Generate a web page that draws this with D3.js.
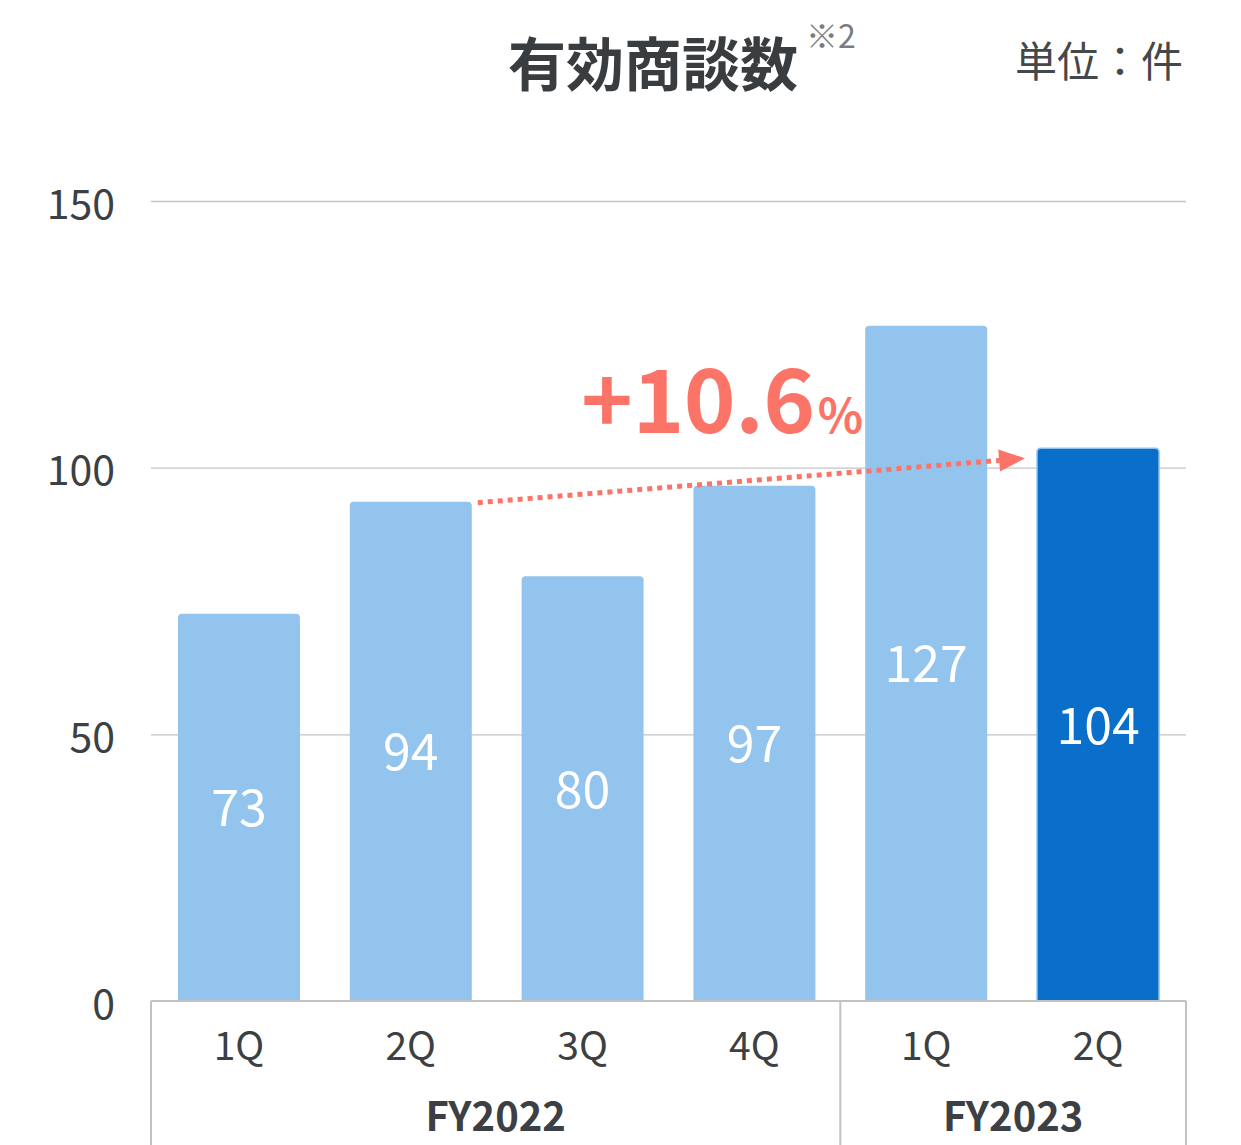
<!DOCTYPE html>
<html>
<head>
<meta charset="utf-8">
<script src="https://cdn.jsdelivr.net/npm/d3@7"></script>
<style>
  html, body { margin: 0; padding: 0; background: #fff; }
  svg { display: block; font-family: "Noto Sans CJK JP", "Noto Sans", sans-serif; }
</style>
</head>
<body>
<svg id="chart" width="1241" height="1145"></svg>
<script>
// Quarterly count of qualified business negotiations
const quarters = ["1Q", "2Q", "3Q", "4Q", "1Q", "2Q"];
const fiscalYears = ["FY2022", "FY2022", "FY2022", "FY2022", "FY2023", "FY2023"];
const values = [73, 94, 80, 97, 127, 104];
const yTicks = [0, 50, 100, 150];
const growthLabel = "+10.6";
const growthUnit = "%";

(function draw() {
  const W = 1241, H = 1145;
  const plotL = 151, plotR = 1186, plotT = 201, plotB = 1001;

  const svg = d3.select("#chart");
  const ids = d3.range(values.length);

  const x = d3.scaleBand().domain(ids).range([plotL, plotR]).paddingInner(0.29).paddingOuter(0.157);
  const y = d3.scaleLinear().domain([0, 150]).range([plotB, plotT]);

  const textCol = "#3c3f43";

  // Title, footnote mark and unit
  svg.append("text").attr("x", 653).attr("y", 86).attr("text-anchor", "middle")
    .attr("font-size", 58).attr("font-weight", 700).attr("fill", "#3a3d40")
    .text("有効商談数");
  svg.append("text").attr("x", 806).attr("y", 48)
    .attr("font-size", 32).attr("fill", "#7a7c7f").text("※2");
  svg.append("text").attr("x", 1183).attr("y", 77).attr("text-anchor", "end")
    .attr("font-size", 42).attr("fill", "#45484b").text("単位：件");

  // Gridlines and y labels
  const yAxis = d3.axisLeft(y).tickValues(yTicks).tickSize(-(plotR - plotL)).tickPadding(36);
  const gy = svg.append("g").attr("transform", `translate(${plotL},0)`).call(yAxis);
  gy.select(".domain").remove();
  gy.selectAll(".tick line").attr("stroke", "#c4c4c4").attr("stroke-width", 1.3)
    .filter(d => d === 0).remove();
  gy.selectAll(".tick text").attr("font-size", 41).attr("fill", textCol).attr("dy", "0.42em")
    .attr("font-family", "\"Noto Sans CJK JP\", sans-serif");

  // Bars with slightly rounded tops
  function barPath(i) {
    const x0 = x(i), w = x.bandwidth(), y0 = y(values[i]) + 2, y1 = y(0), r = 4;
    return `M${x0},${y1}V${y0 + r}Q${x0},${y0} ${x0 + r},${y0}H${x0 + w - r}Q${x0 + w},${y0} ${x0 + w},${y0 + r}V${y1}Z`;
  }
  const last = values.length - 1;
  svg.append("g").selectAll("path").data(ids).join("path")
    .attr("d", barPath)
    .attr("fill", i => i === last ? "#0a6fca" : "#92c4ee")
    .attr("stroke", i => i === last ? "#8cc0ee" : "none")
    .attr("stroke-width", 1.5);

  // Value labels centred in each bar
  svg.append("g").selectAll("text").data(ids).join("text")
    .attr("x", i => x(i) + x.bandwidth() / 2)
    .attr("y", i => (y(values[i]) + y(0)) / 2 + 2)
    .attr("dy", "0.36em")
    .attr("text-anchor", "middle")
    .attr("font-size", 50).attr("fill", "#fff")
    .text(i => values[i]);

  // Axis baseline and fiscal-year separators
  const axisCol = "#c2c2c2";
  svg.append("line").attr("x1", plotL).attr("x2", plotR).attr("y1", plotB).attr("y2", plotB)
    .attr("stroke", axisCol).attr("stroke-width", 2);
  const groups = d3.groups(ids, i => fiscalYears[i]);
  const sepX = [plotL];
  groups.forEach(([fy, idx], gi) => {
    const li = idx[idx.length - 1];
    sepX.push(gi === groups.length - 1 ? plotR : (x(li) + x.bandwidth() + x(li + 1)) / 2);
  });
  svg.append("g").selectAll("line").data(sepX).join("line")
    .attr("x1", d => d).attr("x2", d => d).attr("y1", plotB).attr("y2", H)
    .attr("stroke", axisCol).attr("stroke-width", 2);

  // Quarter labels
  svg.append("g").selectAll("text").data(ids).join("text")
    .attr("x", i => x(i) + x.bandwidth() / 2).attr("y", 1046).attr("dy", "0.36em")
    .attr("text-anchor", "middle").attr("font-size", 39).attr("fill", textCol)
    .text(i => quarters[i]);

  // Fiscal year labels
  svg.append("g").selectAll("text").data(groups).join("text")
    .attr("x", (d, gi) => (sepX[gi] + sepX[gi + 1]) / 2).attr("y", 1117).attr("dy", "0.36em")
    .attr("text-anchor", "middle").attr("font-size", 40).attr("font-weight", 700).attr("fill", textCol)
    .text(d => d[0]);

  // Growth arrow: from top of 2Q FY2022 towards 2Q FY2023
  const accent = "#fb7467";
  const from = 1, to = last;
  const ax1 = x(from) + x.bandwidth() + 6, ay1 = y(values[from]) + 3;
  const tipX = x(to) - 12, tipY = y(values[to]) + 12;
  const ang = Math.atan2(tipY - ay1, tipX - ax1);
  const headLen = 26, headHalf = 11;
  const bx = tipX - headLen * Math.cos(ang), by = tipY - headLen * Math.sin(ang);
  svg.append("line").attr("x1", ax1).attr("y1", ay1).attr("x2", bx).attr("y2", by)
    .attr("stroke", accent).attr("stroke-width", 5).attr("stroke-dasharray", "5,5");
  const nx = -Math.sin(ang), ny = Math.cos(ang);
  svg.append("path")
    .attr("d", `M${tipX},${tipY}L${bx + nx * headHalf},${by + ny * headHalf}L${bx - nx * headHalf},${by - ny * headHalf}Z`)
    .attr("fill", accent);

  const growth = svg.append("text").attr("x", 581).attr("y", 433).attr("fill", accent).attr("font-weight", 700);
  growth.append("tspan").attr("font-size", 88).attr("letter-spacing", -0.5).text(growthLabel);
  growth.append("tspan").attr("font-size", 47).attr("dx", 3).text(growthUnit);
})();
</script>
</body>
</html>
